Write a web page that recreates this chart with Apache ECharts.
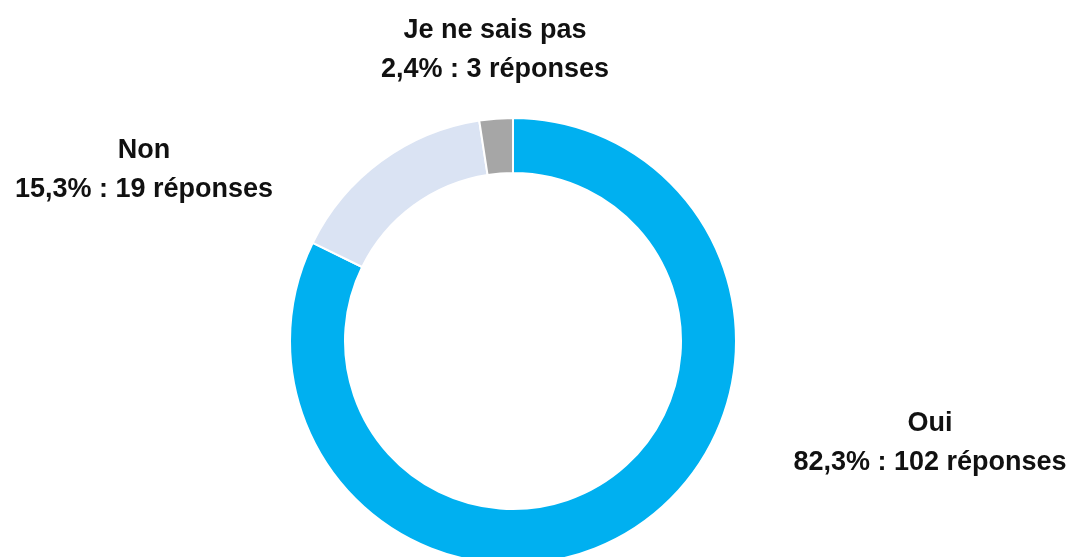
<!DOCTYPE html>
<html>
<head>
<meta charset="utf-8">
<style>
  html, body { margin: 0; padding: 0; background: #fff; }
  #chart { width: 1075px; height: 557px; }
</style>
<script src="https://cdn.jsdelivr.net/npm/echarts@6/dist/echarts.min.js"></script>
</head>
<body>
<div id="chart"></div>
<script>
// données
const categories = ['Oui', 'Non', 'Je ne sais pas']
const responses = [102, 19, 3]
const colors = ['#00B0F0', '#DAE3F3', '#A6A6A6']

// position du texte de chaque étiquette (centre du bloc)
const labelPos = [
  { x: 930, y: 443 },
  { x: 144, y: 170 },
  { x: 495, y: 50 }
]

const chart = echarts.init(document.getElementById('chart'))

chart.setOption({
  animation: false,
  series: [
    {
      type: 'pie',
      center: [513, 341],
      radius: [168, 223],
      startAngle: 90,
      clockwise: true,
      avoidLabelOverlap: false,
      itemStyle: {
        borderColor: '#fff',
        borderWidth: 2
      },
      label: {
        show: true,
        position: 'outside',
        color: '#111',
        fontFamily: 'Liberation Sans, Arial, sans-serif',
        fontWeight: 'bold',
        fontSize: 27,
        lineHeight: 39,
        align: 'center',
        formatter: function (p) {
          return p.name + '\n' + p.percent.toFixed(1).replace('.', ',') + '% : ' + p.value + ' réponses'
        }
      },
      labelLine: { show: false },
      labelLayout: function (params) {
        const pos = labelPos[params.dataIndex]
        return { x: pos.x, y: pos.y, align: 'center', verticalAlign: 'middle' }
      },
      emphasis: { disabled: true },
      data: categories.map(function (name, i) {
        return { name: name, value: responses[i], itemStyle: { color: colors[i] } }
      })
    }
  ]
})
</script>
</body>
</html>
